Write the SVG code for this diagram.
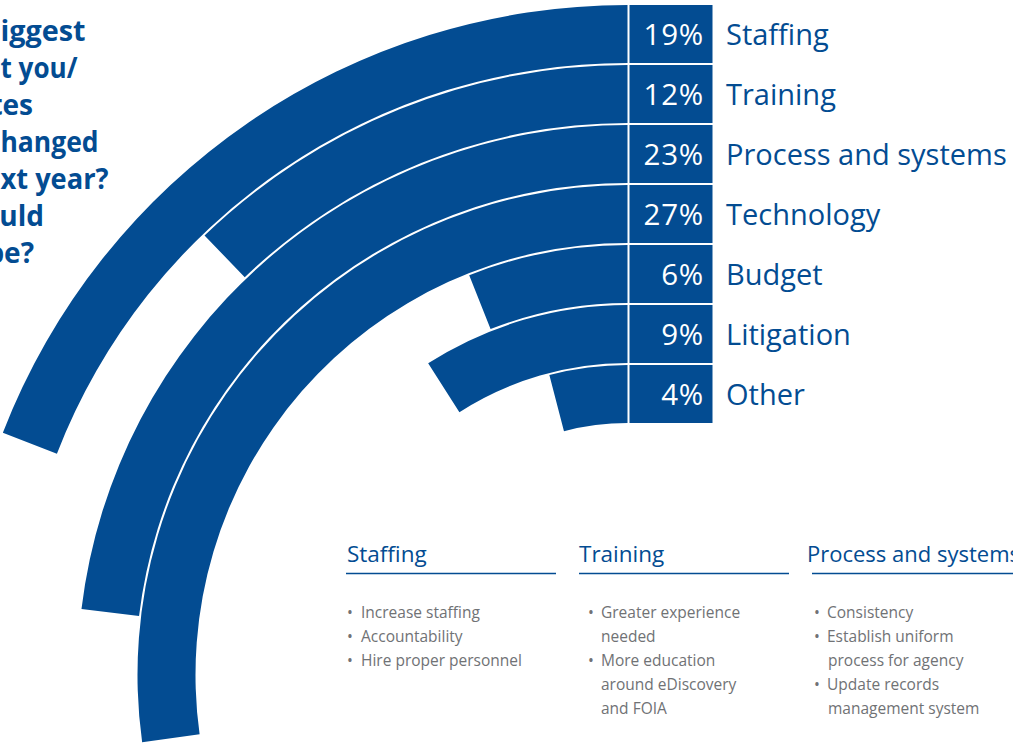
<svg xmlns="http://www.w3.org/2000/svg" width="1013" height="744" viewBox="0 0 1013 744">
<style>
.ring{fill:#034c92}
.box{fill:#034c92}
.pct{font-family:"Open Sans","Liberation Sans",sans-serif;font-size:29.5px;fill:#fff;text-anchor:end;letter-spacing:0.8px}
.lbl{font-family:"Open Sans","Liberation Sans",sans-serif;font-size:29px;fill:#034c92}
.title{font-family:"Open Sans","Liberation Sans",sans-serif;font-size:28px;font-weight:bold;fill:#034c92}
.te{text-anchor:end}
.hd{font-family:"Open Sans","Liberation Sans",sans-serif;font-size:22.5px;fill:#034c92}
.rule{stroke:#034c92;stroke-width:1.5;fill:none}
.bl{font-family:"Open Sans","Liberation Sans",sans-serif;font-size:15.5px;fill:#707275}
</style>
<rect width="1013" height="744" fill="#fff"/>
<g id="title">
<text class="title" x="0.5" y="41" textLength="85" lengthAdjust="spacingAndGlyphs">iggest</text>
<text class="title" x="0.5" y="78" textLength="77" lengthAdjust="spacingAndGlyphs">t you/</text>
<text class="title te" x="33" y="115">tes</text>
<text class="title" x="0.5" y="152" textLength="98" lengthAdjust="spacingAndGlyphs">hanged</text>
<text class="title" x="0.5" y="189" textLength="108" lengthAdjust="spacingAndGlyphs">xt year?</text>
<text class="title te" x="44" y="226">uld</text>
<text class="title te" x="34" y="263">be?</text>
</g>
<g id="staffing">
<path class="ring" d="M627.5,5 A670,670 0 0 0 2.85,432.71 L56.92,453.69 A612,612 0 0 1 627.5,63 Z"/>
<rect class="box" x="629.5" y="5" width="83" height="58"/>
<text class="pct" x="704" y="45">19%</text>
<text class="lbl" x="726" y="45">Staffing</text>
</g>
<g id="training">
<path class="ring" d="M627.5,65 A610,610 0 0 0 204.53,235.46 L244.74,277.26 A552,552 0 0 1 627.5,123 Z"/>
<rect class="box" x="629.5" y="65" width="83" height="58"/>
<text class="pct" x="704" y="105">12%</text>
<text class="lbl" x="726" y="105">Training</text>
</g>
<g id="process">
<path class="ring" d="M627.5,125 A550,550 0 0 0 81.48,608.92 L139.06,615.89 A492,492 0 0 1 627.5,183 Z"/>
<rect class="box" x="629.5" y="125" width="83" height="58"/>
<text class="pct" x="704" y="165">23%</text>
<text class="lbl" x="726" y="165">Process and systems</text>
</g>
<g id="technology">
<path class="ring" d="M627.5,185 A490,490 0 0 0 142.15,742.35 L199.6,734.37 A432,432 0 0 1 627.5,243 Z"/>
<rect class="box" x="629.5" y="185" width="83" height="58"/>
<text class="pct" x="704" y="225">27%</text>
<text class="lbl" x="726" y="225">Technology</text>
</g>
<g id="budget">
<path class="ring" d="M627.5,245 A430,430 0 0 0 469.21,275.19 L490.56,329.12 A372,372 0 0 1 627.5,303 Z"/>
<rect class="box" x="629.5" y="245" width="83" height="58"/>
<text class="pct" x="704" y="285">6%</text>
<text class="lbl" x="726" y="285">Budget</text>
</g>
<g id="litigation">
<path class="ring" d="M627.5,305 A370,370 0 0 0 428.16,363.28 L459.41,412.15 A312,312 0 0 1 627.5,363 Z"/>
<rect class="box" x="629.5" y="305" width="83" height="58"/>
<text class="pct" x="704" y="345">9%</text>
<text class="lbl" x="726" y="345">Litigation</text>
</g>
<g id="other">
<path class="ring" d="M627.5,365 A310,310 0 0 0 549.36,375.01 L563.98,431.14 A252,252 0 0 1 627.5,423 Z"/>
<rect class="box" x="629.5" y="365" width="83" height="58"/>
<text class="pct" x="704" y="405">4%</text>
<text class="lbl" x="726" y="405">Other</text>
</g>
<g id="connectors"></g>
<g id="col-staffing">
<text class="hd" x="347" y="562">Staffing</text>
<line class="rule" x1="346" y1="573.5" x2="556" y2="573.5"/>
<text class="bl" y="618"><tspan x="347">•</tspan><tspan x="361">Increase staffing</tspan></text>
<text class="bl" y="642"><tspan x="347">•</tspan><tspan x="361">Accountability</tspan></text>
<text class="bl" y="666"><tspan x="347">•</tspan><tspan x="361">Hire proper personnel</tspan></text>
</g>
<g id="col-training">
<text class="hd" x="579" y="562">Training</text>
<line class="rule" x1="579" y1="573.5" x2="789" y2="573.5"/>
<text class="bl" y="618"><tspan x="588">•</tspan><tspan x="601">Greater experience</tspan></text>
<text class="bl" x="601" y="642">needed</text>
<text class="bl" y="666"><tspan x="588">•</tspan><tspan x="601">More education</tspan></text>
<text class="bl" x="601" y="690">around eDiscovery</text>
<text class="bl" x="601" y="714">and FOIA</text>
</g>
<g id="col-process">
<text class="hd" x="807" y="562" textLength="213" lengthAdjust="spacingAndGlyphs">Process and systems</text>
<line class="rule" x1="812" y1="573.5" x2="1013" y2="573.5"/>
<text class="bl" y="618"><tspan x="814">•</tspan><tspan x="827">Consistency</tspan></text>
<text class="bl" y="642"><tspan x="814">•</tspan><tspan x="827">Establish uniform</tspan></text>
<text class="bl" x="828" y="666">process for agency</text>
<text class="bl" y="690"><tspan x="814">•</tspan><tspan x="827">Update records</tspan></text>
<text class="bl" x="828" y="714">management system</text>
</g>
</svg>
